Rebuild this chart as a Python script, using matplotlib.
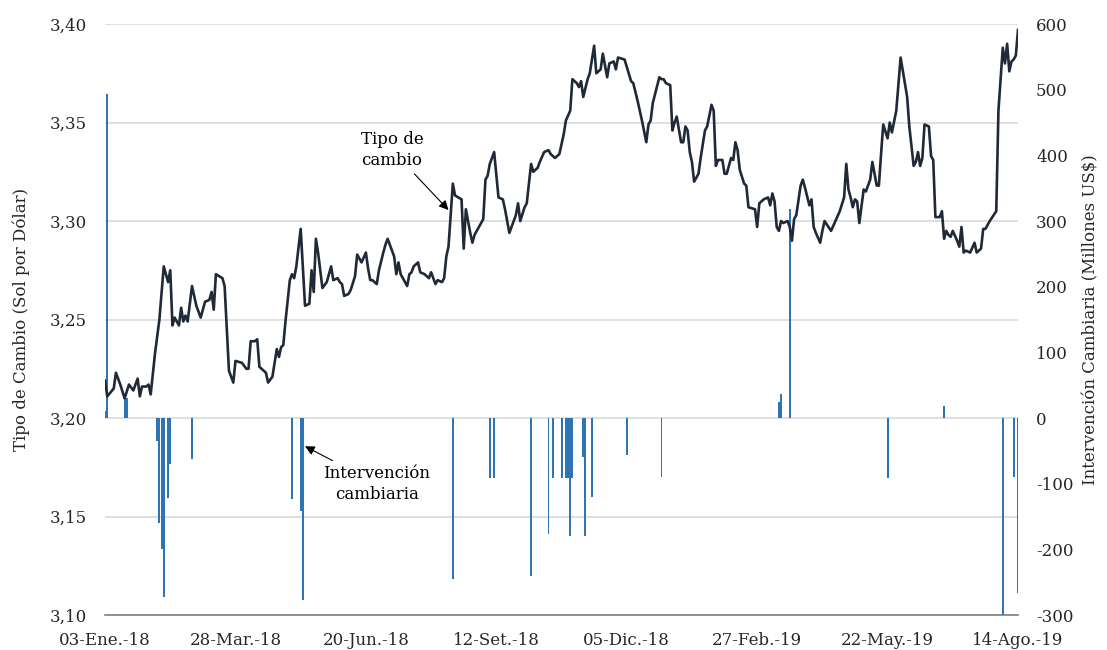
import matplotlib
matplotlib.use("Agg")
import matplotlib.pyplot as plt
import numpy as np

plt.rcParams["font.family"] = ["DejaVu Serif"]
plt.rcParams["axes.unicode_minus"] = False

# --- Data ---
# business-day offset from 03-Ene-18 (0) to 14-Ago-19 (420)
tc_dia = [
    0, 1, 4, 5, 7, 9, 11, 13, 15, 16,
    17, 19, 20, 21, 23, 25, 27, 28, 29, 30,
    31, 32, 34, 35, 36, 37, 38, 40, 42, 44,
    46, 48, 49, 50, 51, 54, 55, 57, 59, 60,
    63, 65, 66, 67, 69, 70, 71, 74, 75, 77,
    79, 80, 81, 82, 83, 85, 86, 87, 88, 90,
    92, 94, 95, 96, 97, 98, 100, 102, 104, 105,
    107, 108,
    109, 110, 112, 113, 115, 116, 118, 120, 121, 122,
    123, 125, 126, 128, 129, 130, 133, 134, 135, 136,
    139, 140, 141, 142, 144, 145, 147, 149, 150, 152,
    153, 155, 156, 157, 158, 160, 161, 164, 165, 166,
    168, 169, 170, 174, 175, 176, 177, 179, 181, 183,
    184, 186, 189, 190, 191, 193, 194, 196, 197, 199,
    200, 202, 204, 205, 207, 208, 209, 211, 212,
    214, 215, 217, 218, 219, 220, 222, 223, 225, 226,
    228, 229, 231, 232, 234, 235, 236, 239, 242, 243,
    245, 247, 249, 250, 251, 252, 255, 256, 257, 258,
    260, 261, 262, 263, 265, 266, 267, 268, 269, 270,
    271, 273, 274, 276, 277, 279, 280, 281, 282, 284,
    285, 286, 288, 289, 290, 291, 292, 294, 295, 296,
    299, 300, 301, 303, 305, 306, 307, 308, 309, 310,
    311, 312, 314, 315, 316, 317, 318, 320,
    321, 322, 324, 325, 326, 327, 329, 330, 331, 334,
    338, 340, 341, 342, 343, 344, 345, 346, 347, 349,
    350, 352, 353, 355, 356, 357, 358, 360, 361, 362,
    364, 366, 369, 370, 372, 373, 374, 375, 376, 377,
    379, 380, 381, 382, 384, 385, 386, 387, 388, 389,
    390, 392, 393, 394, 395, 396, 398, 400, 401, 403,
    404, 405, 407, 410, 411, 413, 414, 415, 416, 417,
    418, 419, 420,
]
tc_valor = [
    3.219, 3.211, 3.215, 3.223, 3.217, 3.210, 3.217, 3.214, 3.220, 3.211,
    3.216, 3.216, 3.217, 3.212, 3.233, 3.250, 3.277, 3.273, 3.269, 3.275,
    3.247, 3.251, 3.247, 3.256, 3.249, 3.252, 3.249, 3.267, 3.257, 3.251,
    3.259, 3.260, 3.264, 3.255, 3.273, 3.271, 3.267, 3.224, 3.218, 3.229,
    3.228, 3.225, 3.225, 3.239, 3.239, 3.240, 3.226, 3.223, 3.218, 3.221,
    3.235, 3.231, 3.236, 3.237, 3.249, 3.270, 3.273, 3.271, 3.277, 3.296,
    3.257, 3.258, 3.275, 3.264, 3.291, 3.284, 3.266, 3.269, 3.277, 3.270,
    3.271, 3.269,
    3.268, 3.262, 3.263, 3.265, 3.272, 3.283, 3.279, 3.284, 3.276, 3.270,
    3.270, 3.268, 3.275, 3.284, 3.288, 3.291, 3.282, 3.273, 3.279, 3.273,
    3.267, 3.273, 3.274, 3.277, 3.279, 3.274, 3.273, 3.271, 3.274, 3.268,
    3.270, 3.269, 3.271, 3.282, 3.287, 3.319, 3.313, 3.311, 3.286, 3.306,
    3.294, 3.289, 3.293, 3.301, 3.321, 3.323, 3.329, 3.335, 3.312, 3.311,
    3.306, 3.294, 3.303, 3.309, 3.300, 3.307, 3.309, 3.329, 3.325, 3.327,
    3.330, 3.335, 3.336, 3.334, 3.332, 3.333, 3.334, 3.344, 3.351,
    3.356, 3.372, 3.370, 3.368, 3.371, 3.363, 3.372, 3.375, 3.389, 3.375,
    3.377, 3.385, 3.373, 3.380, 3.381, 3.377, 3.383, 3.382, 3.371, 3.370,
    3.361, 3.351, 3.340, 3.349, 3.351, 3.360, 3.373, 3.372, 3.372, 3.370,
    3.369, 3.346, 3.350, 3.353, 3.340, 3.340, 3.348, 3.346, 3.335, 3.330,
    3.320, 3.324, 3.332, 3.346, 3.348, 3.359, 3.356, 3.328, 3.331, 3.331,
    3.324, 3.324, 3.332, 3.331, 3.340, 3.336, 3.326, 3.319, 3.318, 3.307,
    3.306, 3.297, 3.309, 3.311, 3.312, 3.308, 3.314, 3.310, 3.297, 3.295,
    3.300, 3.299, 3.300, 3.297, 3.290, 3.301, 3.303, 3.318,
    3.321, 3.317, 3.308, 3.311, 3.297, 3.294, 3.289, 3.295, 3.300, 3.295,
    3.305, 3.312, 3.329, 3.316, 3.312, 3.307, 3.311, 3.310, 3.299, 3.316,
    3.315, 3.321, 3.330, 3.318, 3.318, 3.334, 3.349, 3.342, 3.350, 3.345,
    3.356, 3.383, 3.363, 3.348, 3.328, 3.330, 3.335, 3.328, 3.332, 3.349,
    3.348, 3.333, 3.331, 3.302, 3.302, 3.305, 3.291, 3.295, 3.293, 3.292,
    3.295, 3.290, 3.287, 3.297, 3.284, 3.285, 3.284, 3.289, 3.284, 3.286,
    3.296, 3.296, 3.300, 3.305, 3.356, 3.388, 3.380, 3.390, 3.376, 3.381,
    3.382, 3.384, 3.397,
]

# intervención cambiaria (millones US$)
int_dia = [0, 1, 9, 10, 24, 25, 26, 27, 29, 30,
           40, 86, 90, 91, 160, 177, 179, 196, 204, 206,
           210, 212, 213, 214, 215, 220, 221, 224, 240, 256,
           310, 311, 315, 360, 386, 413, 418, 420]
int_valor = [10, 493, 35, 30, -35, -160, -200, -272, -122, -70,
             -62, -123, -141, -277, -245, -91, -91, -241, -177, -91,
             -91, -91, -91, -180, -91, -60, -180, -120, -57, -90,
             25, 37, 319, -91, 19, -300, -90, -266]

x_ticks = [0, 60, 120, 180, 240, 300, 360, 420]
x_labels = ["03-Ene.-18", "28-Mar.-18", "20-Jun.-18", "12-Set.-18",
            "05-Dic.-18", "27-Feb.-19", "22-May.-19", "14-Ago.-19"]
y_left = [3.10, 3.15, 3.20, 3.25, 3.30, 3.35, 3.40]
y_left_labels = ["3,10", "3,15", "3,20", "3,25", "3,30", "3,35", "3,40"]
y_right = [-300, -200, -100, 0, 100, 200, 300, 400, 500, 600]

# --- Plot ---
fig = plt.figure(figsize=(11.07, 6.5), dpi=100)
ax = fig.add_axes([0.0949, 0.0538, 0.8247, 0.9092])
ax2 = ax.twinx()

ax.set_xlim(0, 420)
ax.set_ylim(3.10, 3.40)
ax2.set_ylim(-300, 600)

ax.grid(axis="y", color="#d9d9d9", linewidth=1.2)
ax.set_axisbelow(True)

ax2.bar(int_dia, int_valor, width=0.9, color="#2e75b6", zorder=2)
# exchange rate drawn on top of the bars, in left-axis units
ax2.plot(tc_dia, tc_valor, color="#1f2937", linewidth=1.9, zorder=3,
         transform=ax.transData)
ax2.set_ylim(-300, 600)
ax2.set_xlim(0, 420)

ax.set_xticks(x_ticks)
ax.set_xticklabels(x_labels)
ax.set_yticks(y_left)
ax.set_yticklabels(y_left_labels)
ax2.set_yticks(y_right)

for a in (ax, ax2):
    for s in ("top", "left", "right", "bottom"):
        a.spines[s].set_visible(False)
ax.spines["bottom"].set_visible(True)
ax.spines["bottom"].set_color("#7f7f7f")
ax.spines["bottom"].set_linewidth(1.2)

ax.tick_params(axis="x", length=0, pad=12, labelsize=12, labelcolor="#262626")
ax.tick_params(axis="y", length=0, pad=13, labelsize=12, labelcolor="#262626")
ax2.tick_params(axis="y", length=0, pad=13, labelsize=12, labelcolor="#262626")

ax.set_ylabel("Tipo de Cambio (Sol por Dólar)", fontsize=12, color="#262626", labelpad=14)
ax2.set_ylabel("Intervención Cambiaria (Millones US$)", fontsize=12, color="#262626", labelpad=6)

# --- Annotations ---
arrow = dict(arrowstyle="-|>", color="black", linewidth=0.8,
             mutation_scale=14, shrinkA=2, shrinkB=0)
ax2.annotate("Tipo de\ncambio", xy=(158, 3.3056), xycoords=ax.transData,
             xytext=(132, 3.336), textcoords=ax.transData,
             ha="center", va="center", fontsize=12, linespacing=1.3,
             arrowprops=arrow, zorder=4)
ax2.annotate("Intervención\ncambiaria", xy=(92, -43), xytext=(125, -100),
             ha="center", va="center", fontsize=12, linespacing=1.3,
             arrowprops=arrow, zorder=4)

plt.savefig("out.png", dpi=100)
